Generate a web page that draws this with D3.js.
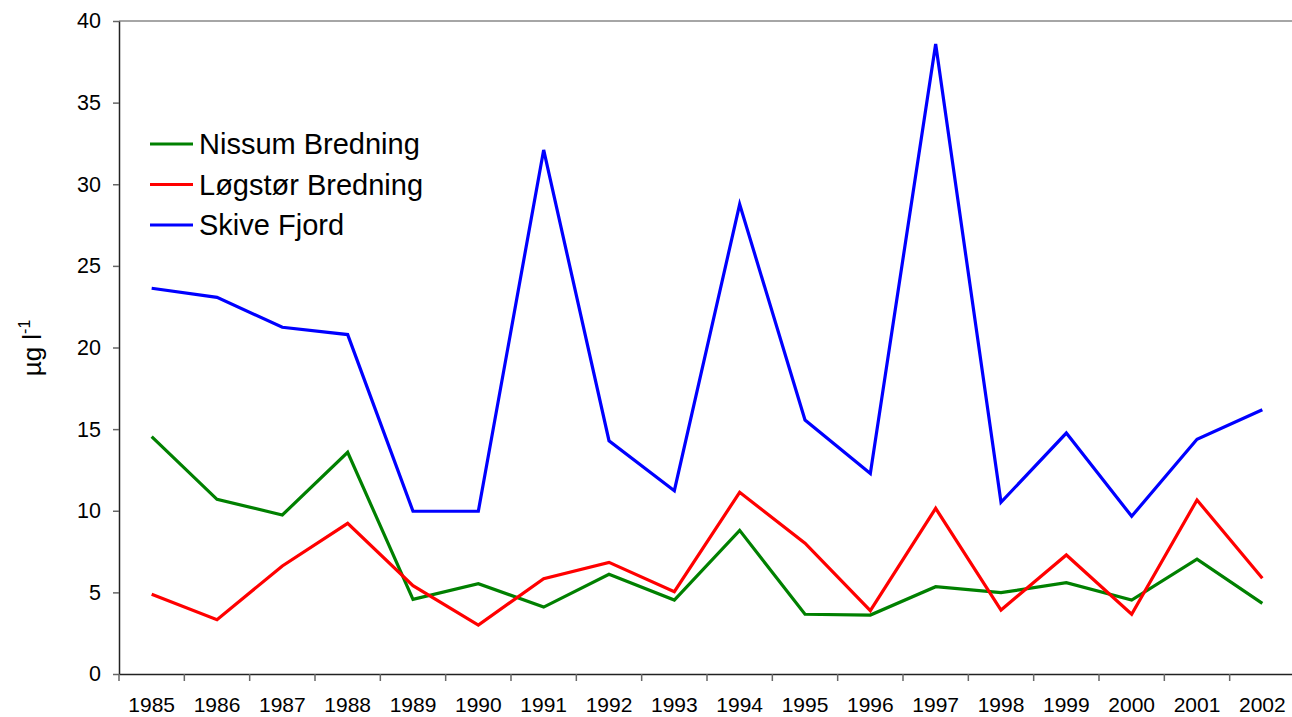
<!DOCTYPE html>
<html>
<head>
<meta charset="utf-8">
<script src="https://cdn.jsdelivr.net/npm/d3@7"></script>
<style>
  html, body { margin: 0; padding: 0; background: #fff; }
  svg { display: block; font-family: "Liberation Sans", Arial, sans-serif; }
</style>
</head>
<body>
<div id="chart"></div>
<script>
// år og måleværdier (µg l-1)
var years = ['1985', '1986', '1987', '1988', '1989', '1990', '1991', '1992', '1993',
  '1994', '1995', '1996', '1997', '1998', '1999', '2000', '2001', '2002'];
var nissum = [14.54, 10.70, 9.74, 13.58, 4.57, 5.53, 4.10, 6.11, 4.53,
  8.80, 3.66, 3.61, 5.35, 4.98, 5.59, 4.53, 7.04, 4.33];
var logstor = [4.88, 3.33, 6.62, 9.23, 5.41, 3.00, 5.84, 6.84, 5.04,
  11.13, 8.01, 3.88, 10.15, 3.92, 7.29, 3.66, 10.66, 5.86];
var skive = [23.63, 23.07, 21.24, 20.79, 9.97, 9.97, 32.10, 14.29, 11.23,
  28.77, 15.56, 12.29, 38.59, 10.52, 14.76, 9.66, 14.38, 16.19];
var seriesNames = ['Nissum Bredning', 'Løgstør Bredning', 'Skive Fjord'];
var seriesColors = ['#008000', '#ff0000', '#0000ff'];
var yTicks = [0, 5, 10, 15, 20, 25, 30, 35, 40];

var W = 1292, H = 717;
var margin = {left: 119, top: 21, bottom: 43, right: -3};

var svg = d3.select('#chart').append('svg')
  .attr('width', W)
  .attr('height', H);

var x = d3.scaleBand()
  .domain(years)
  .range([margin.left, W - margin.right])
  .padding(0);

var y = d3.scaleLinear()
  .domain([0, 40])
  .range([H - margin.bottom, margin.top]);

// øverste ramme
svg.append('line')
  .attr('x1', margin.left).attr('x2', W)
  .attr('y1', y(40)).attr('y2', y(40))
  .attr('stroke', '#888').attr('stroke-width', 1.5);

// y-akse
var gy = svg.append('g')
  .attr('transform', 'translate(' + margin.left + ',0)')
  .call(d3.axisLeft(y).tickValues(yTicks).tickSize(6).tickSizeOuter(0).tickPadding(12));
gy.select('.domain').attr('stroke', '#222').attr('stroke-width', 1.5);
gy.selectAll('.tick line').attr('stroke', '#666').attr('stroke-width', 1.5);
gy.selectAll('.tick text').attr('font-size', 21.5).attr('fill', '#000')
  .attr('font-family', '"Liberation Sans", Arial, sans-serif');

// x-akse
var gx = svg.append('g')
  .attr('transform', 'translate(0,' + y(0) + ')')
  .call(d3.axisBottom(x).tickSize(0).tickSizeOuter(0).tickPadding(23));
gx.select('.domain').attr('stroke', '#222').attr('stroke-width', 1.5);
gx.selectAll('.tick text').attr('font-size', 21).attr('fill', '#000')
  .attr('font-family', '"Liberation Sans", Arial, sans-serif');

// streger mellem kategorier
svg.append('g').selectAll('line')
  .data(years)
  .enter()
  .append('line')
  .attr('x1', d => x(d)).attr('x2', d => x(d))
  .attr('y1', y(0)).attr('y2', y(0) + 7)
  .attr('stroke', '#666').attr('stroke-width', 1.5);

// y-titel
var title = svg.append('text')
  .attr('transform', 'translate(41,348) rotate(-90)')
  .attr('text-anchor', 'middle')
  .attr('font-size', 26)
  .attr('fill', '#000');
title.append('tspan').text('µg l');
title.append('tspan').attr('font-size', 16).attr('dy', -11).text('-1');

// linjer
var line = d3.line()
  .x((d, i) => x(years[i]) + x.bandwidth() / 2)
  .y(d => y(d));

[nissum, logstor, skive].forEach(function (vals, i) {
  svg.append('path')
    .datum(vals)
    .attr('d', line)
    .attr('fill', 'none')
    .attr('stroke', seriesColors[i])
    .attr('stroke-width', 3.2)
    .attr('stroke-linejoin', 'miter');
});

// legende
var legend = svg.append('g').attr('transform', 'translate(150,144)');
var items = legend.selectAll('g')
  .data(seriesNames)
  .enter()
  .append('g')
  .attr('transform', (d, i) => 'translate(0,' + i * 40.5 + ')');
items.append('line')
  .attr('x1', 0).attr('x2', 43)
  .attr('stroke', (d, i) => seriesColors[i])
  .attr('stroke-width', 3.2);
items.append('text')
  .attr('x', 49)
  .attr('y', 10)
  .attr('font-size', 29)
  .attr('fill', '#000')
  .text(d => d);
</script>
</body>
</html>
